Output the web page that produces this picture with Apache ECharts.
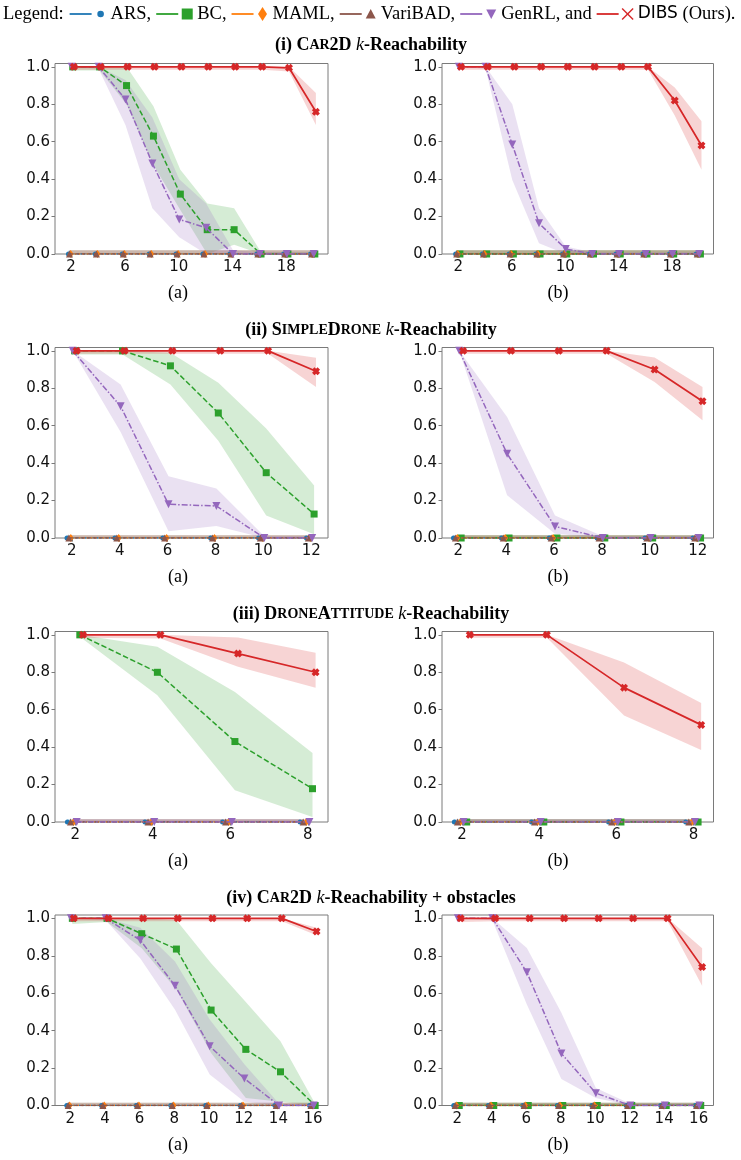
<!DOCTYPE html>
<html><head><meta charset="utf-8">
<script src="https://cdn.jsdelivr.net/npm/echarts@6/dist/echarts.min.js"></script>
<style>html,body{margin:0;padding:0;background:#fff}#c{width:741px;height:1160px}</style>
</head><body><div id="c"></div>
<script>
// ---------------- data ----------------
const METHODS = ['ARS', 'BC', 'MAML', 'VariBAD', 'GenRL', 'DIBS'];

const K_CAR = [2, 4, 6, 8, 10, 12, 14, 16, 18, 20];
const K_DRONE = [2, 4, 6, 8, 10, 12];
const K_ATT = [2, 4, 6, 8];
const K_OBS = [2, 4, 6, 8, 10, 12, 14, 16];

const TICKS_CAR = [2, 6, 10, 14, 18];
const TICKS_DRONE = [2, 4, 6, 8, 10, 12];
const TICKS_ATT = [2, 4, 6, 8];
const TICKS_OBS = [2, 4, 6, 8, 10, 12, 14, 16];
const Y_TICKS = [0, 0.2, 0.4, 0.6, 0.8, 1.0];

// near-zero methods (mean and upper band edge)
const ZERO_10 = [0, 0, 0, 0, 0, 0, 0, 0, 0, 0];
const NEAR0_10 = [0.02, 0.02, 0.02, 0.02, 0.02, 0.02, 0.02, 0.02, 0.02, 0.02];
const ZERO_6 = [0, 0, 0, 0, 0, 0];
const NEAR0_6 = [0.015, 0.015, 0.015, 0.015, 0.015, 0.015];
const ZERO_4 = [0, 0, 0, 0];
const NEAR0_4 = [0.015, 0.015, 0.015, 0.015];
const ZERO_8 = [0, 0, 0, 0, 0, 0, 0, 0];
const NEAR0_8 = [0.015, 0.015, 0.015, 0.015, 0.015, 0.015, 0.015, 0.015];

// (i) Car2D (a)
const CAR_A_DIBS    = [1, 1, 1, 1, 1, 1, 1, 1, 0.995, 0.76];
const CAR_A_DIBS_LO = [0.985, 0.985, 0.985, 0.985, 0.985, 0.985, 0.985, 0.985, 0.975, 0.69];
const CAR_A_DIBS_HI = [1, 1, 1, 1, 1, 1, 1, 1, 1, 0.86];
const CAR_A_BC      = [1, 1, 0.90, 0.63, 0.32, 0.13, 0.13, 0, 0, 0];
const CAR_A_BC_LO   = [0.98, 0.98, 0.80, 0.475, 0.235, 0.0, 0.05, 0, 0, 0];
const CAR_A_BC_HI   = [1, 1, 1, 0.79, 0.45, 0.27, 0.245, 0.01, 0.01, 0.01];
const CAR_A_GEN     = [1, 1, 0.826, 0.484, 0.185, 0.14, 0, 0, 0, 0];
const CAR_A_GEN_LO  = [1, 0.99, 0.69, 0.245, 0.09, 0, 0, 0, 0, 0];
const CAR_A_GEN_HI  = [1, 1, 0.93, 0.73, 0.40, 0.27, 0.02, 0.01, 0.01, 0.01];
// (i) Car2D (b)
const CAR_B_DIBS    = [1, 1, 1, 1, 1, 1, 1, 1, 0.82, 0.58];
const CAR_B_DIBS_LO = [0.985, 0.985, 0.985, 0.985, 0.985, 0.985, 0.985, 0.985, 0.74, 0.45];
const CAR_B_DIBS_HI = [1, 1, 1, 1, 1, 1, 1, 1, 0.89, 0.71];
const CAR_B_GEN     = [1, 1, 0.585, 0.164, 0.027, 0, 0, 0, 0, 0];
const CAR_B_GEN_LO  = [1, 0.99, 0.395, 0.057, 0, 0, 0, 0, 0, 0];
const CAR_B_GEN_HI  = [1, 1, 0.80, 0.245, 0.04, 0.01, 0.01, 0.01, 0.01, 0.01];
// (ii) SimpleDrone (a)
const DRO_A_DIBS    = [1, 1, 1, 1, 1, 0.891];
const DRO_A_DIBS_LO = [0.985, 0.985, 0.985, 0.985, 0.985, 0.807];
const DRO_A_DIBS_HI = [1, 1, 1, 1, 1, 0.963];
const DRO_A_BC      = [1, 1, 0.92, 0.668, 0.349, 0.128];
const DRO_A_BC_LO   = [0.98, 0.98, 0.82, 0.52, 0.12, 0.02];
const DRO_A_BC_HI   = [1, 1, 0.99, 0.83, 0.585, 0.28];
const DRO_A_GEN     = [1, 0.704, 0.18, 0.171, 0, 0];
const DRO_A_GEN_LO  = [1, 0.567, 0.036, 0.064, 0, 0];
const DRO_A_GEN_HI  = [1, 0.82, 0.33, 0.264, 0.01, 0.01];
// (ii) SimpleDrone (b)
const DRO_B_DIBS    = [1, 1, 1, 1, 0.90, 0.731];
const DRO_B_DIBS_LO = [0.985, 0.985, 0.985, 0.985, 0.834, 0.629];
const DRO_B_DIBS_HI = [1, 1, 1, 1, 0.964, 0.807];
const DRO_B_GEN     = [1, 0.45, 0.062, 0, 0, 0];
const DRO_B_GEN_LO  = [1, 0.228, 0.023, 0, 0, 0];
const DRO_B_GEN_HI  = [1, 0.647, 0.12, 0.01, 0.01, 0.01];
// (iii) DroneAttitude (a)
const ATT_A_DIBS    = [1, 1, 0.90, 0.80];
const ATT_A_DIBS_LO = [0.985, 0.98, 0.829, 0.718];
const ATT_A_DIBS_HI = [1, 1, 0.986, 0.904];
const ATT_A_BC      = [1, 0.80, 0.43, 0.178];
const ATT_A_BC_LO   = [0.99, 0.677, 0.169, 0.027];
const ATT_A_BC_HI   = [1, 0.936, 0.695, 0.369];
// (iii) DroneAttitude (b)
const ATT_B_DIBS    = [1, 1, 0.718, 0.519];
const ATT_B_DIBS_LO = [0.985, 0.985, 0.569, 0.385];
const ATT_B_DIBS_HI = [1, 1, 0.852, 0.636];
// (iv) Car2D + obstacles (a)
const OBS_A_DIBS    = [1, 1, 1, 1, 1, 1, 1, 0.93];
const OBS_A_DIBS_LO = [0.985, 0.985, 0.985, 0.985, 0.985, 0.985, 0.985, 0.91];
const OBS_A_DIBS_HI = [1, 1, 1, 1, 1, 1, 1, 0.95];
const OBS_A_BC      = [1, 1, 0.918, 0.836, 0.51, 0.30, 0.18, 0];
const OBS_A_BC_LO   = [0.97, 0.98, 0.84, 0.62, 0.28, 0.04, 0.02, 0];
const OBS_A_BC_HI   = [1, 1, 1, 0.99, 0.76, 0.553, 0.343, 0.01];
const OBS_A_GEN     = [1, 1, 0.883, 0.64, 0.317, 0.144, 0, 0];
const OBS_A_GEN_LO  = [1, 0.99, 0.786, 0.512, 0.166, 0.02, 0, 0];
const OBS_A_GEN_HI  = [1, 1, 0.95, 0.77, 0.46, 0.22, 0.01, 0.01];
// (iv) Car2D + obstacles (b)
const OBS_B_DIBS    = [1, 1, 1, 1, 1, 1, 1, 0.74];
const OBS_B_DIBS_LO = [0.98, 0.985, 0.985, 0.985, 0.985, 0.985, 0.985, 0.64];
const OBS_B_DIBS_HI = [1, 1, 1, 1, 1, 1, 1, 0.84];
const OBS_B_GEN     = [1, 1, 0.712, 0.278, 0.066, 0, 0, 0];
const OBS_B_GEN_LO  = [1, 0.99, 0.54, 0.142, 0.04, 0, 0, 0];
const OBS_B_GEN_HI  = [1, 1, 0.842, 0.495, 0.094, 0.01, 0.01, 0.01];

// ---------------- style ----------------
const COLORS = {ARS: '#1f77b4', BC: '#2ca02c', MAML: '#ff7f0e', VariBAD: '#8c564b', GenRL: '#9467bd', DIBS: '#d62728'};
const OFFSET = {ARS: -0.2, VariBAD: -0.12, MAML: -0.04, GenRL: 0.04, BC: 0.12, DIBS: 0.2};
const XPATH = 'path://M0,3L3,0L5,2L7,0L10,3L8,5L10,7L7,10L5,8L3,10L0,7L2,5Z';
const SYMBOL = {ARS: 'circle', BC: 'rect', MAML: 'diamond', VariBAD: 'triangle', GenRL: 'path://M0,0L10,0L5,8.7Z', DIBS: XPATH};
const SYMSIZE = {ARS: 5, BC: 7, MAML: [6, 8], VariBAD: 7, GenRL: 8, DIBS: 8};
const LINETYPE = {ARS: 'dotted', BC: [5.5, 2.5], MAML: [1.5, 2.5], VariBAD: [4, 2], GenRL: [6, 2, 1.5, 2], DIBS: 'solid'};

function z3(Z, N) { return [Z, Z, N]; }
const panels = [
  {k: K_CAR, ticks: TICKS_CAR, xr: [0.8, 21.1], row: 0, col: 0, s: {
    ARS: z3(ZERO_10, NEAR0_10), MAML: z3(ZERO_10, NEAR0_10), VariBAD: z3(ZERO_10, NEAR0_10),
    BC: [CAR_A_BC, CAR_A_BC_LO, CAR_A_BC_HI], GenRL: [CAR_A_GEN, CAR_A_GEN_LO, CAR_A_GEN_HI],
    DIBS: [CAR_A_DIBS, CAR_A_DIBS_LO, CAR_A_DIBS_HI]}},
  {k: K_CAR, ticks: TICKS_CAR, xr: [0.78, 21.1], row: 0, col: 1, s: {
    ARS: z3(ZERO_10, NEAR0_10), MAML: z3(ZERO_10, NEAR0_10), VariBAD: z3(ZERO_10, NEAR0_10),
    BC: z3(ZERO_10, NEAR0_10), GenRL: [CAR_B_GEN, CAR_B_GEN_LO, CAR_B_GEN_HI],
    DIBS: [CAR_B_DIBS, CAR_B_DIBS_LO, CAR_B_DIBS_HI]}},
  {k: K_DRONE, ticks: TICKS_DRONE, xr: [1.3, 12.7], row: 1, col: 0, s: {
    ARS: z3(ZERO_6, NEAR0_6), MAML: z3(ZERO_6, NEAR0_6), VariBAD: z3(ZERO_6, NEAR0_6),
    BC: [DRO_A_BC, DRO_A_BC_LO, DRO_A_BC_HI], GenRL: [DRO_A_GEN, DRO_A_GEN_LO, DRO_A_GEN_HI],
    DIBS: [DRO_A_DIBS, DRO_A_DIBS_LO, DRO_A_DIBS_HI]}},
  {k: K_DRONE, ticks: TICKS_DRONE, xr: [1.32, 12.66], row: 1, col: 1, s: {
    ARS: z3(ZERO_6, NEAR0_6), MAML: z3(ZERO_6, NEAR0_6), VariBAD: z3(ZERO_6, NEAR0_6),
    BC: z3(ZERO_6, NEAR0_6), GenRL: [DRO_B_GEN, DRO_B_GEN_LO, DRO_B_GEN_HI],
    DIBS: [DRO_B_DIBS, DRO_B_DIBS_LO, DRO_B_DIBS_HI]}},
  {k: K_ATT, ticks: TICKS_ATT, xr: [1.48, 8.52], row: 2, col: 0, s: {
    ARS: z3(ZERO_4, NEAR0_4), MAML: z3(ZERO_4, NEAR0_4), VariBAD: z3(ZERO_4, NEAR0_4),
    BC: [ATT_A_BC, ATT_A_BC_LO, ATT_A_BC_HI], GenRL: z3(ZERO_4, NEAR0_4),
    DIBS: [ATT_A_DIBS, ATT_A_DIBS_LO, ATT_A_DIBS_HI]}},
  {k: K_ATT, ticks: TICKS_ATT, xr: [1.48, 8.52], row: 2, col: 1, s: {
    ARS: z3(ZERO_4, NEAR0_4), MAML: z3(ZERO_4, NEAR0_4), VariBAD: z3(ZERO_4, NEAR0_4),
    BC: z3(ZERO_4, NEAR0_4), GenRL: z3(ZERO_4, NEAR0_4),
    DIBS: [ATT_B_DIBS, ATT_B_DIBS_LO, ATT_B_DIBS_HI]}},
  {k: K_OBS, ticks: TICKS_OBS, xr: [1.12, 16.86], row: 3, col: 0, s: {
    ARS: z3(ZERO_8, NEAR0_8), MAML: z3(ZERO_8, NEAR0_8), VariBAD: z3(ZERO_8, NEAR0_8),
    BC: [OBS_A_BC, OBS_A_BC_LO, OBS_A_BC_HI], GenRL: [OBS_A_GEN, OBS_A_GEN_LO, OBS_A_GEN_HI],
    DIBS: [OBS_A_DIBS, OBS_A_DIBS_LO, OBS_A_DIBS_HI]}},
  {k: K_OBS, ticks: TICKS_OBS, xr: [1.12, 16.86], row: 3, col: 1, s: {
    ARS: z3(ZERO_8, NEAR0_8), MAML: z3(ZERO_8, NEAR0_8), VariBAD: z3(ZERO_8, NEAR0_8),
    BC: z3(ZERO_8, NEAR0_8), GenRL: [OBS_B_GEN, OBS_B_GEN_LO, OBS_B_GEN_HI],
    DIBS: [OBS_B_DIBS, OBS_B_DIBS_LO, OBS_B_DIBS_HI]}}
];

// ---------------- layout ----------------
const COL_LEFT = [55, 442];
const COL_WIDTH = [273, 271.5];
const ROW_TOP = [63.5, 347.5, 631.5, 915];
const ROW_H = 190.5;
const Y_MAX = 1.018;
const FRAME = '#7a7a7a';
const TICK_FONT = 'DejaVu Sans';

const grids = [], xAxes = [], yAxes = [], series = [];
panels.forEach((p, gi) => {
  grids.push({left: COL_LEFT[p.col], top: ROW_TOP[p.row], width: COL_WIDTH[p.col], height: ROW_H,
    show: true, borderColor: FRAME, borderWidth: 1, backgroundColor: 'transparent', containLabel: false});
  xAxes.push({type: 'value', gridIndex: gi, min: p.xr[0], max: p.xr[1],
    axisLine: {show: false}, splitLine: {show: false},
    axisTick: {show: true, inside: false, length: 3.5, customValues: p.ticks, lineStyle: {color: FRAME, width: 1}},
    axisLabel: {customValues: p.ticks, fontFamily: TICK_FONT, fontSize: 15, color: '#111', margin: 6}});
  yAxes.push({type: 'value', gridIndex: gi, min: 0, max: Y_MAX,
    axisLine: {show: false}, splitLine: {show: false},
    axisTick: {show: true, inside: false, length: 3.5, customValues: Y_TICKS, lineStyle: {color: FRAME, width: 1}},
    axisLabel: {customValues: Y_TICKS, fontFamily: TICK_FONT, fontSize: 15, color: '#111', margin: 5,
      formatter: v => v.toFixed(1)}});
  // bands
  METHODS.forEach((m, mi) => {
    const [mean, lo, hi] = p.s[m];
    const pts = p.k.map((k, i) => [k + OFFSET[m], lo[i], hi[i]]);
    series.push({
      type: 'custom', name: m + '_band', xAxisIndex: gi, yAxisIndex: gi, silent: true, z: 1,
      data: pts, encode: {x: 0, y: [1, 2]},
      renderItem: function (params, api) {
        if (params.dataIndex !== 0) return null;
        const top = pts.map(q => api.coord([q[0], q[2]]));
        const bot = pts.map(q => api.coord([q[0], q[1]])).reverse();
        return {type: 'polygon', shape: {points: top.concat(bot)},
          style: {fill: COLORS[m], opacity: 0.2}};
      }
    });
  });
  // lines
  METHODS.forEach((m, mi) => {
    const [mean] = p.s[m];
    series.push({
      type: 'line', name: m, xAxisIndex: gi, yAxisIndex: gi, z: 2 + mi,
      data: p.k.map((k, i) => [k + OFFSET[m], mean[i]]),
      symbol: SYMBOL[m], symbolSize: SYMSIZE[m], showSymbol: true,
      lineStyle: {color: COLORS[m], width: m === 'DIBS' ? 1.7 : 1.5, type: LINETYPE[m]},
      itemStyle: {color: COLORS[m]},
      emphasis: {disabled: true}, silent: true, clip: true
    });
  });
});

// ---------------- text (titles, captions, legend) ----------------
const SERIF = 'Liberation Serif';
const graphics = [];
const titleRich = {
  b: {fontFamily: SERIF, fontWeight: 'bold', fontSize: 18, fill: '#000'},
  s: {fontFamily: SERIF, fontWeight: 'bold', fontSize: 14, fill: '#000'},
  k: {fontFamily: SERIF, fontStyle: 'italic', fontSize: 18, fill: '#000'}
};
const TITLES = [
  '{b|(i) C}{s|AR}{b|2D }{k|k}{b|-Reachability}',
  '{b|(ii) S}{s|IMPLE}{b|D}{s|RONE}{b| }{k|k}{b|-Reachability}',
  '{b|(iii) D}{s|RONE}{b|A}{s|TTITUDE}{b| }{k|k}{b|-Reachability}',
  '{b|(iv) C}{s|AR}{b|2D }{k|k}{b|-Reachability + obstacles}'
];
const TITLE_Y = [45, 330, 614, 898];
TITLES.forEach((t, i) => graphics.push({type: 'text', x: 371, y: TITLE_Y[i], silent: true,
  style: {text: t, rich: titleRich, align: 'center', verticalAlign: 'middle', textAlign: 'center', textVerticalAlign: 'middle'}}));
const CAPTION_Y = [293, 577, 861, 1145];
CAPTION_Y.forEach(y => {
  graphics.push({type: 'text', x: 178, y: y, silent: true, style: {text: '(a)', font: '18px "Liberation Serif"', fill: '#000', align: 'center', verticalAlign: 'middle', textAlign: 'center', textVerticalAlign: 'middle'}});
  graphics.push({type: 'text', x: 558, y: y, silent: true, style: {text: '(b)', font: '18px "Liberation Serif"', fill: '#000', align: 'center', verticalAlign: 'middle', textAlign: 'center', textVerticalAlign: 'middle'}});
});

// legend
const ctx = document.createElement('canvas').getContext('2d');
function tw(font, s) { ctx.font = font; return ctx.measureText(s).width; }
const LFONT = '18.5px "Liberation Serif"';
const LSANS = '17px "DejaVu Sans"';
const LY = 14;
const LEG_LABELS = {ARS: 'ARS,', BC: 'BC,', MAML: 'MAML,', VariBAD: 'VariBAD,', GenRL: 'GenRL, and'};
function legendMarker(m, cx, cy) {
  const c = COLORS[m];
  switch (m) {
    case 'ARS': return [{type: 'circle', shape: {cx, cy, r: 3.3}, style: {fill: c}}];
    case 'BC': return [{type: 'rect', shape: {x: cx - 5.5, y: cy - 5.5, width: 11, height: 11}, style: {fill: c}}];
    case 'MAML': return [{type: 'polygon', shape: {points: [[cx, cy - 7], [cx + 4.5, cy], [cx, cy + 7], [cx - 4.5, cy]]}, style: {fill: c}}];
    case 'VariBAD': return [{type: 'polygon', shape: {points: [[cx, cy - 5], [cx + 5, cy + 4.5], [cx - 5, cy + 4.5]]}, style: {fill: c}}];
    case 'GenRL': return [{type: 'polygon', shape: {points: [[cx - 5, cy - 4.5], [cx + 5, cy - 4.5], [cx, cy + 5]]}, style: {fill: c}}];
    case 'DIBS': return [
      {type: 'line', shape: {x1: cx - 5.5, y1: cy - 5.5, x2: cx + 5.5, y2: cy + 5.5}, style: {stroke: c, lineWidth: 1.4}},
      {type: 'line', shape: {x1: cx - 5.5, y1: cy + 5.5, x2: cx + 5.5, y2: cy - 5.5}, style: {stroke: c, lineWidth: 1.4}}];
  }
}
let lx = 3;
graphics.push({type: 'text', x: lx, y: LY, silent: true, style: {text: 'Legend:', font: LFONT, fill: '#000', align: 'left', verticalAlign: 'middle', textAlign: 'left', textVerticalAlign: 'middle'}});
lx += tw(LFONT, 'Legend:') + 6;
METHODS.forEach(m => {
  graphics.push({type: 'line', silent: true, shape: {x1: lx, y1: LY, x2: lx + 22, y2: LY}, style: {stroke: COLORS[m], lineWidth: 1.8}});
  const mx = lx + 31;
  legendMarker(m, mx, LY).forEach(g => { g.silent = true; graphics.push(g); });
  let tx = mx + 10;
  if (m !== 'DIBS') {
    graphics.push({type: 'text', x: tx, y: LY, silent: true, style: {text: LEG_LABELS[m], font: LFONT, fill: '#000', align: 'left', verticalAlign: 'middle', textAlign: 'left', textVerticalAlign: 'middle'}});
    lx = tx + tw(LFONT, LEG_LABELS[m]) + 5;
  } else {
    graphics.push({type: 'text', x: tx, y: LY, silent: true, style: {text: 'DIBS', font: LSANS, fill: '#000', align: 'left', verticalAlign: 'middle', textAlign: 'left', textVerticalAlign: 'middle'}});
    tx += tw(LSANS, 'DIBS') + tw(LFONT, ' ');
    graphics.push({type: 'text', x: tx, y: LY, silent: true, style: {text: '(Ours).', font: LFONT, fill: '#000', align: 'left', verticalAlign: 'middle', textAlign: 'left', textVerticalAlign: 'middle'}});
  }
});

const chart = echarts.init(document.getElementById('c'), null, {renderer: 'canvas'});
chart.setOption({
  animation: false,
  backgroundColor: '#fff',
  grid: grids, xAxis: xAxes, yAxis: yAxes, series: series,
  graphic: {elements: graphics}
});
</script>
</body></html>
